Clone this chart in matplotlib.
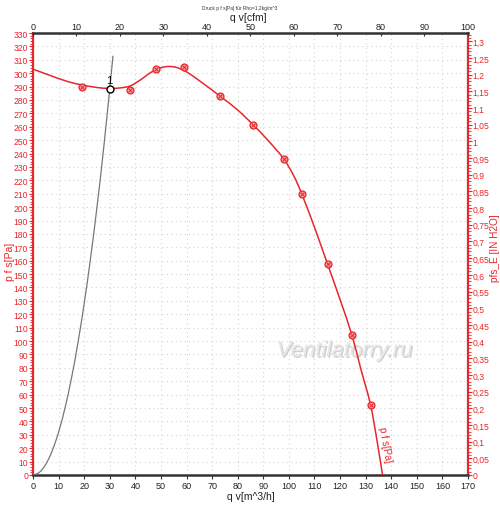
import matplotlib
matplotlib.use("Agg")
import numpy as np
import matplotlib.pyplot as plt
import matplotlib.patheffects as pe
from matplotlib.path import Path
from matplotlib.patches import PathPatch
from matplotlib.ticker import MultipleLocator, FuncFormatter

plt.rcParams["font.family"] = ["Liberation Sans", "DejaVu Sans"]

# ---- data ----
curve_q = [0, 5, 10, 15, 19, 25, 30, 34, 38, 42, 46, 50, 53, 56, 60, 66, 73, 80, 86,
           92, 98, 102, 105, 110, 115, 120, 124.6, 128, 131.9, 134.5, 136.6]
curve_p = [303, 299.5, 296, 293, 291.3, 289.3, 288.6, 289, 290.5, 295, 300.5, 304, 305,
           304.3, 301, 293, 283, 272.5, 261.5, 249.5, 236, 223, 210, 185, 158, 131,
           104.6, 80, 52.5, 25, 0]
meas_q = [19.0, 37.8, 48.2, 58.9, 73.0, 85.9, 98.0, 105.1, 115.2, 124.6, 131.9]
meas_p = [290.0, 287.8, 303.4, 304.7, 283.0, 261.4, 236.0, 209.9, 157.6, 104.6, 52.5]
sys_q = [0, 2.5, 5, 7.5, 10, 12.5, 15, 17.5, 20, 22.5, 25, 27.5, 30, 31.25]
sys_p = [0, 2, 8, 18, 32, 50, 72, 98, 128, 162, 200, 242, 288.5, 313]
op_q, op_p = 30.0, 288.5
cfm_per_m3h = 1 / 1.699
inh2o_per_pa = 1 / 249.089

RED = "#e8262b"
TICK_FS = 6.2


def smooth_path(xs, ys):
    """Catmull-Rom curve through the points, as cubic Bezier path segments."""
    P = np.column_stack([xs, ys]).astype(float)
    ext = np.vstack([P[0], P, P[-1]])
    verts = [P[0]]
    codes = [Path.MOVETO]
    for i in range(1, len(ext) - 2):
        p0, p1, p2, p3 = ext[i - 1], ext[i], ext[i + 1], ext[i + 2]
        c1 = p1 + (p2 - p0) / 6.0
        c2 = p2 - (p3 - p1) / 6.0
        verts += [c1, c2, p2]
        codes += [Path.CURVE4] * 3
    return Path(verts, codes)


fig = plt.figure(figsize=(5.0, 5.06), dpi=100)
ax = fig.add_axes([0.066, 0.0593, 0.87, 0.8735])
ax.set_xlim(0, 170)
ax.set_ylim(0, 330)

ax.xaxis.set_major_locator(MultipleLocator(10))
ax.yaxis.set_major_locator(MultipleLocator(10))
ax.yaxis.set_minor_locator(MultipleLocator(2))
ax.grid(True, which="major", color="#d4d4d4", linestyle=(0, (1, 3)), linewidth=0.8)

for s in ["bottom", "top"]:
    ax.spines[s].set_linewidth(1.8)
    ax.spines[s].set_color("#333333")
ax.spines["left"].set_color(RED)
ax.spines["left"].set_linewidth(1.6)
ax.spines["right"].set_color(RED)
ax.spines["right"].set_linewidth(1.6)

ax.tick_params(axis="x", labelsize=TICK_FS + 0.3, length=3, width=0.8, pad=1.5,
               colors="#333333")
ax.tick_params(axis="y", which="major", labelsize=TICK_FS, length=3, width=0.8, pad=0.5,
               colors=RED, labelcolor=RED)
ax.tick_params(axis="y", which="minor", length=2, width=0.6, colors=RED)
for lab in ax.get_xticklabels():
    lab.set_color("#222222")

# system curve
ax.add_patch(PathPatch(smooth_path(sys_q, sys_p), facecolor="none",
                       edgecolor="#777777", linewidth=0.9, zorder=3))
# fan curve
ax.add_patch(PathPatch(smooth_path(curve_q, curve_p), facecolor="none",
                       edgecolor=RED, linewidth=1.1, zorder=4))
# measured points
ax.plot(meas_q, meas_p, linestyle="none", marker="o", ms=5, mfc="#f5a0a0",
        mec=RED, mew=0.9, zorder=5)
ax.plot(meas_q, meas_p, linestyle="none", marker="x", ms=3, mec=RED, mew=0.7, zorder=6)
# operating point
ax.plot([op_q], [op_p], marker="o", ms=5, mfc="white", mec="black", mew=1.0, zorder=7)
ax.text(op_q - 0.3, op_p + 2.5, "1", fontsize=8, color="black", ha="center", va="bottom",
        zorder=8)

# curve label
ax.text(137.6, 23, "p f s[Pa]", fontsize=7, color=RED, rotation=-80,
        ha="center", va="center", rotation_mode="anchor")

ax.set_xlabel("q v[m^3/h]", fontsize=7.5, color="#222222")
ax.xaxis.set_label_coords(0.5, -0.036)
ax.set_ylabel("p f s[Pa]", fontsize=7.5, color=RED)
ax.yaxis.set_label_coords(-0.041, 0.484)

# top axis (cfm)
axt = ax.twiny()
axt.set_xlim(0, 170 * cfm_per_m3h)
axt.xaxis.set_major_locator(MultipleLocator(10))
axt.tick_params(axis="x", labelsize=TICK_FS + 0.3, length=2.5, width=0.8, pad=1.5,
                direction="in", colors="#333333")
for lab in axt.get_xticklabels():
    lab.set_color("#222222")
axt.set_xlabel("q v[cfm]", fontsize=7.5, color="#222222")
axt.xaxis.set_label_coords(0.496, 1.03)
for s in axt.spines.values():
    s.set_visible(False)

# right axis (in H2O)
axr = ax.twinx()
axr.set_ylim(0, 330 * inh2o_per_pa)
axr.yaxis.set_major_locator(MultipleLocator(0.05))
axr.yaxis.set_minor_locator(MultipleLocator(0.01))
axr.yaxis.set_major_formatter(FuncFormatter(
    lambda v, p: ("%.2f" % v).rstrip("0").rstrip(".").replace(".", ",")))
axr.tick_params(axis="y", which="major", labelsize=TICK_FS, length=3, width=0.8, pad=0.5,
                colors=RED, labelcolor=RED)
axr.tick_params(axis="y", which="minor", length=2, width=0.6, colors=RED)
axr.set_ylabel("pfs_E [IN H2O]", fontsize=7.2, color=RED)
axr.yaxis.set_label_coords(1.05, 0.516)
for s in axr.spines.values():
    s.set_visible(False)

# title
fig.text(0.48, 0.984, "Druck p f s[Pa] für Rho=1,2kg/m^3", fontsize=3.5,
         ha="center", va="center", color="#333333")

# watermark
ax.text(0.716, 0.281, "Ventilatorry.ru", transform=ax.transAxes, fontsize=16,
        style="italic", color="#e8e8e8",
        ha="center", va="center", zorder=1,
        path_effects=[pe.withSimplePatchShadow(offset=(1, -1), shadow_rgbFace="#b0b0b0",
                                               alpha=0.6)])

fig.savefig("out.png", dpi=100)
